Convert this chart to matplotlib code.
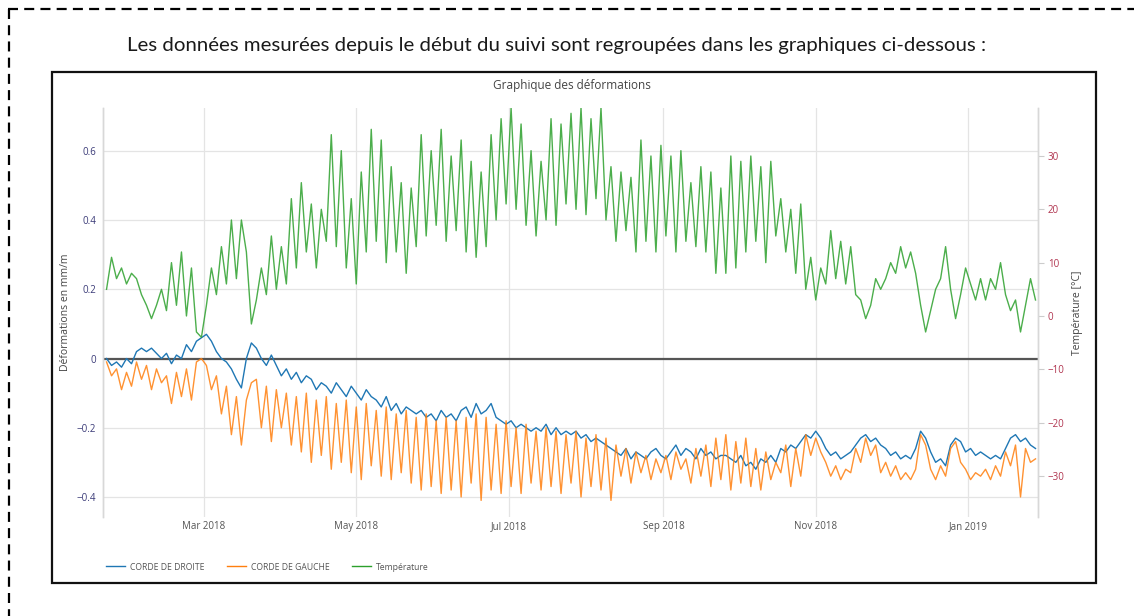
import numpy as np
import matplotlib
matplotlib.use("Agg")
import matplotlib.pyplot as plt
import matplotlib.dates as mdates
from matplotlib.lines import Line2D
from matplotlib.patches import Rectangle

# ---------------- data (one value every 2 days) ----------------
start_date = np.datetime64("2018-01-21")
step_days = 2

temperature = [
    5, 11, 7, 9, 6, 8, 7, 4, 2, -0.5,
    2, 5, 1, 10, 2, 12, 0, 9, -3, -4,
    2, 9, 4, 13, 6, 18, 7, 18, 12, -1.5,
    3, 9, 4, 15, 5, 13, 6, 22, 9, 25,
    12, 21, 9, 20, 14, 34, 13, 31, 9, 22,
    6, 27, 12, 35, 14, 33, 10, 28, 12, 25,
    8, 24, 13, 34, 15, 31, 17, 35, 14, 30,
    16, 33, 12, 29, 11, 27, 13, 34, 18, 37,
    21, 39, 20, 36, 17, 31, 15, 29, 18, 37,
    17, 36, 21, 38, 20, 39, 19, 37, 22, 39,
    18, 28, 14, 27, 16, 26, 12, 33, 14, 30,
    12, 32, 15, 30, 12, 31, 14, 25, 13, 28,
    12, 27, 8, 24, 8, 30, 9, 29, 12, 30,
    14, 28, 10, 29, 15, 22, 12, 20, 8, 21,
    5, 11, 3, 9, 6, 16, 7, 14, 6, 13,
    4, 3, -0.5, 2, 7, 5, 7, 10, 8, 13,
    9, 12, 8, 2, -3, 1, 5, 7, 13, 5,
    -0.5, 4, 9, 6, 3, 7, 3, 7, 5, 10,
    4, 1, 3, -3, 2, 7, 3,
]

corde_droite = [
    0.0, -0.02, -0.01, -0.025, 0.0, -0.015, 0.02, 0.03, 0.02, 0.03,
    0.015, 0.0, 0.015, -0.015, 0.01, 0.0, 0.04, 0.02, 0.05, 0.06,
    0.07, 0.05, 0.02, 0.0, -0.01, -0.03, -0.06, -0.085, 0.0, 0.045,
    0.03, 0.0, -0.02, 0.01, -0.02, -0.05, -0.03, -0.06, -0.04, -0.07,
    -0.05, -0.06, -0.09, -0.07, -0.08, -0.1, -0.07, -0.09, -0.11, -0.08,
    -0.1, -0.12, -0.09, -0.11, -0.12, -0.14, -0.11, -0.15, -0.13, -0.16,
    -0.14, -0.15, -0.16, -0.15, -0.17, -0.16, -0.18, -0.15, -0.17, -0.16,
    -0.18, -0.15, -0.14, -0.17, -0.13, -0.16, -0.15, -0.13, -0.17, -0.18,
    -0.19, -0.18, -0.2, -0.19, -0.2, -0.21, -0.2, -0.21, -0.19, -0.22,
    -0.2, -0.22, -0.21, -0.22, -0.21, -0.23, -0.22, -0.24, -0.23, -0.24,
    -0.25, -0.26, -0.27, -0.28, -0.26, -0.29, -0.27, -0.28, -0.29, -0.27,
    -0.26, -0.28, -0.29, -0.27, -0.25, -0.28, -0.26, -0.27, -0.29, -0.26,
    -0.28, -0.27, -0.29, -0.28, -0.28, -0.29, -0.3, -0.28, -0.31, -0.3,
    -0.32, -0.29, -0.3, -0.28, -0.3, -0.26, -0.27, -0.25, -0.26, -0.24,
    -0.22, -0.23, -0.21, -0.23, -0.26, -0.28, -0.27, -0.29, -0.28, -0.27,
    -0.25, -0.23, -0.22, -0.24, -0.23, -0.25, -0.26, -0.28, -0.27, -0.29,
    -0.28, -0.29, -0.26, -0.21, -0.23, -0.27, -0.3, -0.29, -0.31, -0.25,
    -0.23, -0.24, -0.27, -0.26, -0.28, -0.27, -0.28, -0.29, -0.28, -0.29,
    -0.26, -0.23, -0.22, -0.24, -0.23, -0.25, -0.26,
]

corde_gauche = [
    -0.01, -0.05, -0.03, -0.09, -0.04, -0.08, -0.01, -0.06, -0.02, -0.09,
    -0.03, -0.07, -0.05, -0.13, -0.04, -0.11, -0.03, -0.12, -0.01, 0.0,
    -0.02, -0.09, -0.05, -0.16, -0.08, -0.22, -0.11, -0.25, -0.12, -0.07,
    -0.06, -0.2, -0.08, -0.24, -0.09, -0.2, -0.1, -0.25, -0.11, -0.27,
    -0.1, -0.3, -0.12, -0.28, -0.11, -0.32, -0.13, -0.3, -0.12, -0.33,
    -0.14, -0.35, -0.13, -0.31, -0.15, -0.34, -0.14, -0.35, -0.16, -0.33,
    -0.15, -0.36, -0.17, -0.38, -0.16, -0.37, -0.18, -0.39, -0.17, -0.38,
    -0.18, -0.4, -0.17, -0.36, -0.16, -0.41, -0.17, -0.38, -0.19, -0.39,
    -0.18, -0.37, -0.2, -0.39, -0.19, -0.36, -0.21, -0.38, -0.2, -0.37,
    -0.21, -0.39, -0.22, -0.36, -0.21, -0.4, -0.23, -0.37, -0.22, -0.38,
    -0.23, -0.41, -0.25, -0.34, -0.26, -0.36, -0.27, -0.33, -0.28, -0.35,
    -0.29, -0.33, -0.28, -0.35, -0.27, -0.32, -0.29, -0.36, -0.26, -0.34,
    -0.25, -0.37, -0.23, -0.35, -0.22, -0.38, -0.24, -0.36, -0.23, -0.37,
    -0.26, -0.38, -0.27, -0.35, -0.3, -0.33, -0.25, -0.37, -0.26, -0.34,
    -0.22, -0.28, -0.23, -0.27, -0.3, -0.34, -0.31, -0.35, -0.32, -0.33,
    -0.26, -0.3, -0.23, -0.28, -0.25, -0.33, -0.3, -0.34, -0.31, -0.35,
    -0.33, -0.35, -0.32, -0.22, -0.25, -0.32, -0.35, -0.31, -0.34, -0.26,
    -0.24, -0.3, -0.32, -0.35, -0.33, -0.34, -0.32, -0.35, -0.31, -0.34,
    -0.27, -0.31, -0.25, -0.4, -0.26, -0.3, -0.29,
]

series_names = ["CORDE DE DROITE", "CORDE DE GAUCHE", "Température"]
left_ticks = [-0.4, -0.2, 0, 0.2, 0.4, 0.6]
left_ticklabels = ["\u22120.4", "\u22120.2", "0", "0.2", "0.4", "0.6"]
right_ticks = [-30, -20, -10, 0, 10, 20, 30]
right_ticklabels = ["\u221230", "\u221220", "\u221210", "0", "10", "20", "30"]
heading = "Les données mesurées depuis le début du suivi sont regroupées dans les graphiques ci-dessous :"
chart_title = "Graphique des déformations"
left_label = "Déformations en mm/m"
right_label = "Température [°C]"


def dates_for(values):
    return start_date + np.arange(len(values)) * np.timedelta64(step_days, "D")


# ---------------- figure ----------------
W, H, DPI = 1134, 616, 100
plt.rcParams["font.family"] = ["Open Sans", "DejaVu Sans"]
fig = plt.figure(figsize=(W / DPI, H / DPI), dpi=DPI)
fig.patch.set_facecolor("white")


def fx(px):
    return px / W


def fy(py):
    return 1 - py / H


# dashed document border (top and left)
dash = (0, (4.5, 2.8))
fig.add_artist(Line2D([fx(8), fx(1134)], [fy(9), fy(9)], transform=fig.transFigure,
                      color="black", lw=1.6, linestyle=dash))
fig.add_artist(Line2D([fx(9), fx(9)], [fy(9), fy(616)], transform=fig.transFigure,
                      color="black", lw=1.6, linestyle=dash))

# heading text
ht = fig.text(fx(557), fy(45), heading, ha="center", va="center",
              fontsize=13, color="#1a1a1a", family=["Lato", "DejaVu Sans"])
fig.canvas.draw()
bb = ht.get_window_extent()
ht.set_fontsize(13 * 855 / bb.width)

# chart frame
fig.add_artist(Rectangle((fx(52), fy(583)), fx(1096) - fx(52), fy(72) - fy(583),
                         transform=fig.transFigure, fill=False, ec="#111111", lw=1.6))

fig.text(fx(572), fy(85), chart_title, ha="center", va="center", fontsize=8.5, color="#444444")

# axes
ax_left, ax_right, ax_top, ax_bottom = 103, 1038, 108, 517
ax = fig.add_axes([fx(ax_left), fy(ax_bottom), fx(ax_right) - fx(ax_left), fy(ax_top) - fy(ax_bottom)])
ax2 = ax.twinx()

d_dates = dates_for(corde_droite)
g_dates = dates_for(corde_gauche)
t_dates = dates_for(temperature)

c_blue, c_orange, c_green = "#1f77b4", "#ff7f0e", "#2ca02c"

ax.axhline(0, color="#555555", lw=1.6, zorder=1.5)
ax.plot(d_dates, corde_droite, color=c_blue, lw=1.0, zorder=2)
ax.plot(g_dates, corde_gauche, color=c_orange, lw=1.0, alpha=0.85, zorder=3)
ax2.plot(t_dates, temperature, color=c_green, lw=1.0, alpha=0.85)

ax.set_ylim(-0.458, 0.724)
ax2.set_ylim(-37.7, 39.0)
ax.set_xlim(np.datetime64("2018-01-19T14:00"), np.datetime64("2019-01-29T00:00"))

ax.set_yticks(left_ticks)
ax.set_yticklabels(left_ticklabels)
ax2.set_yticks(right_ticks)
ax2.set_yticklabels(right_ticklabels)

ax.xaxis.set_major_locator(mdates.MonthLocator(bymonth=[1, 3, 5, 7, 9, 11]))
ax.xaxis.set_major_formatter(mdates.DateFormatter("%b %Y"))

ax.grid(True, color="#e4e4e4", lw=0.9)
ax.set_axisbelow(True)
ax.tick_params(axis="y", length=0, pad=5, labelsize=7, labelcolor="#3b3b78")
ax.tick_params(axis="x", length=0, pad=3, labelsize=7, labelcolor="#555555")
ax2.tick_params(axis="y", length=4, width=0.8, color="#cccccc", pad=3,
                labelsize=7, labelcolor="#b0344f")

for a in (ax, ax2):
    for s in ("top", "bottom"):
        a.spines[s].set_visible(False)
    for s in ("left", "right"):
        a.spines[s].set_color("#d8d8d8")
        a.spines[s].set_linewidth(1.0)

ax.set_ylabel(left_label, fontsize=7.5, color="#444444")
ax.yaxis.set_label_coords(-(ax_left - 71) / (ax_right - ax_left), 0.5)
ax2.set_ylabel(right_label, fontsize=7.5, color="#444444")
ax2.yaxis.set_label_coords(1 + (1072 - ax_right) / (ax_right - ax_left), 0.5)

# legend
handles = [Line2D([], [], color=c_blue, lw=1.0),
           Line2D([], [], color=c_orange, lw=1.0),
           Line2D([], [], color=c_green, lw=1.0)]
fig.legend(handles, series_names, loc="center left", bbox_to_anchor=(fx(98), fy(567)),
           ncol=3, frameon=False, fontsize=6.2, labelcolor="#555555",
           handlelength=2.2, handletextpad=0.6, columnspacing=2.6)

fig.savefig("out.png", dpi=DPI, facecolor="white")
